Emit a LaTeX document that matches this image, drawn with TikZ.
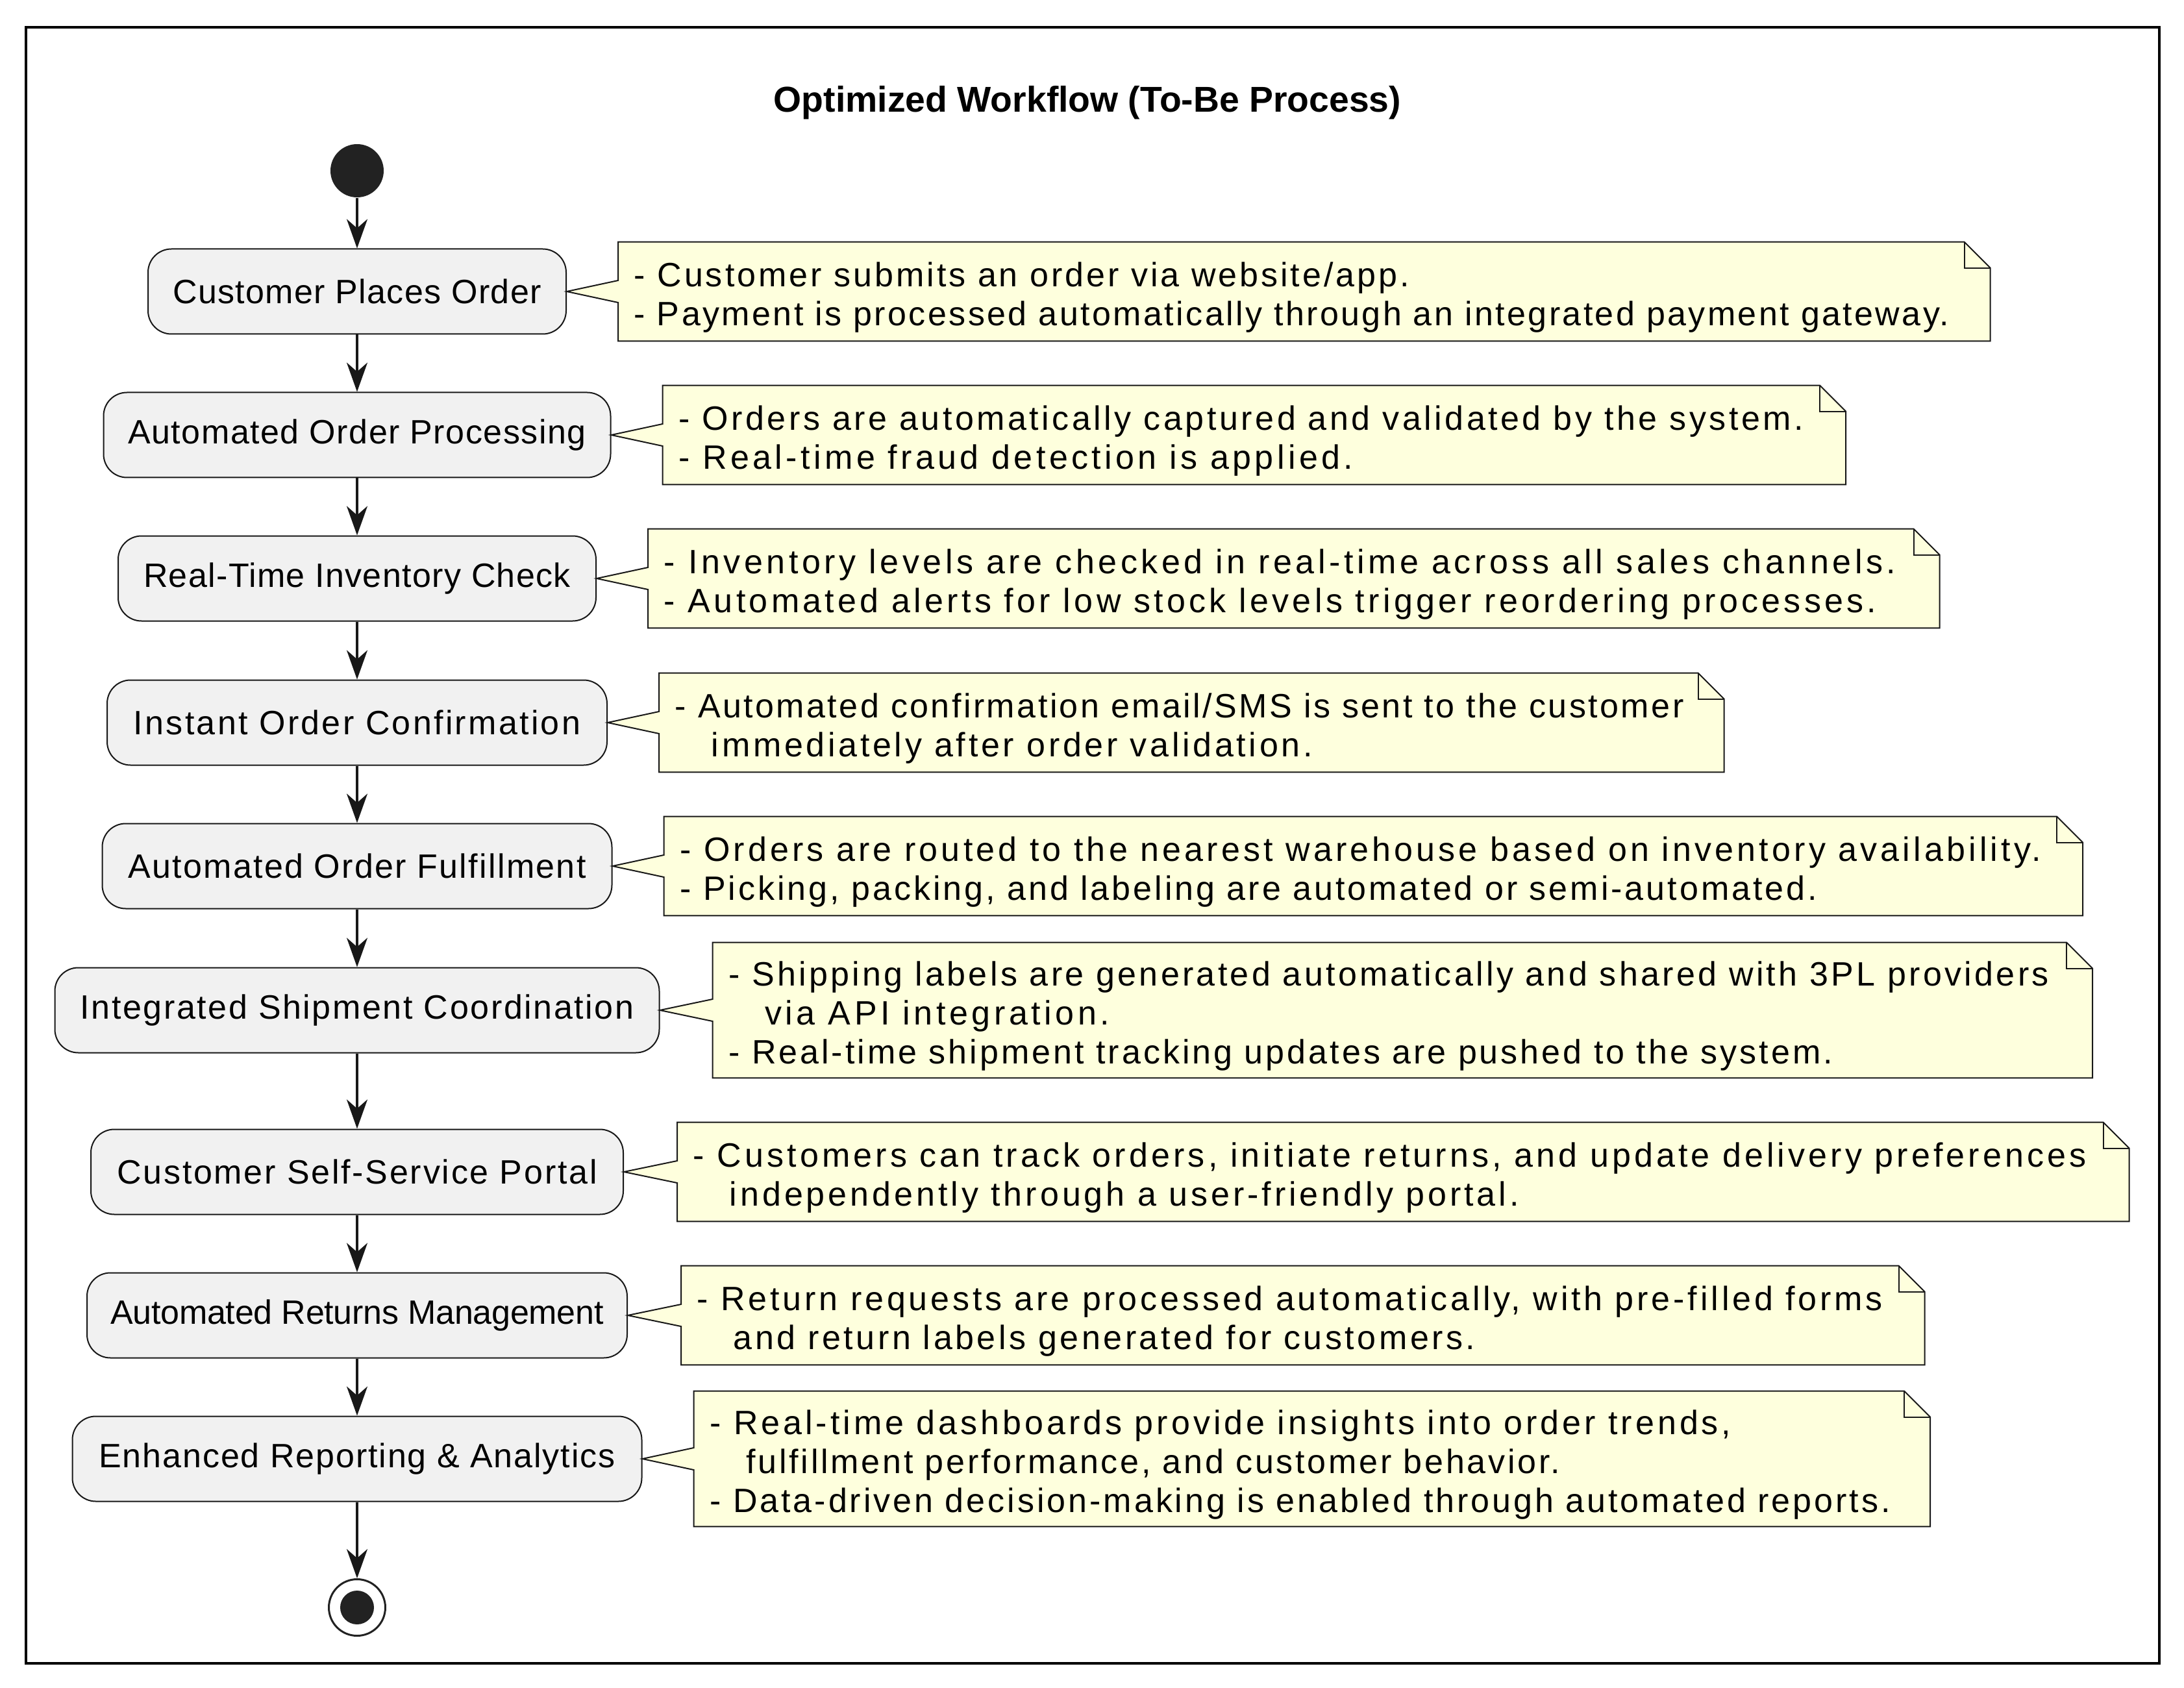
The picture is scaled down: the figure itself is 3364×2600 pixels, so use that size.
\documentclass[tikz,border=0pt]{standalone}
\usepackage{fontspec}
\setmainfont{Liberation Sans}
\newfontfamily\notefont{Liberation Sans}[Ligatures=NoCommon]
\newfontfamily\titlefont{Liberation Sans}[Ligatures=NoCommon]
\usetikzlibrary{arrows.meta}
\definecolor{linec}{HTML}{181818}
\definecolor{boxfill}{HTML}{F1F1F1}
\definecolor{notefill}{HTML}{FEFFDD}
\definecolor{dotc}{HTML}{222222}
\tikzset{
  actbox/.style={draw=linec, fill=boxfill, line width=0.5pt, rounded corners=9pt,
    minimum height=32.75pt, inner sep=0pt, text=black,
    font=\notefont\fontsize{13pt}{15pt}\selectfont},
  flow/.style={draw=linec, line width=0.85pt, -{Stealth[length=11.25pt,width=8pt,inset=3.5pt]}},
  notearea/.style={inner sep=0pt, minimum height=37.75pt, anchor=west},
  tallnote/.style={minimum height=51.75pt},
  noteshape/.style={draw=linec, fill=notefill, line width=0.5pt, line join=miter},
  notetext/.style={inner sep=0pt, align=left, anchor=west, text=black,
    font=\notefont\fontsize{13pt}{15pt}\selectfont},
  startdot/.style={circle, fill=dotc, inner sep=0pt},
}
\newcommand{\drawnote}[2]{%
  \path[noteshape] (#1.north west) -- ([xshift=-10pt]#1.north east) -- ([yshift=-10pt]#1.north east)
    -- (#1.south east) -- (#1.south west) -- ([yshift=-4.25pt]#1.west) -- (#2.east)
    -- ([yshift=4.25pt]#1.west) -- cycle;
  \draw[linec, line width=0.5pt] ([xshift=-10pt]#1.north east) -- ([xshift=-10pt,yshift=-10pt]#1.north east)
    -- ([yshift=-10pt]#1.north east);
}
\newcommand{\cont}{\hspace*{14pt}}
\newcommand{\lsp}[2]{{\addfontfeatures{LetterSpace=#1}#2}}
\newcommand{\tstr}{\rule{0pt}{15.25pt}}
\newcommand{\bstr}{\rule[-4pt]{0pt}{4pt}}
\begin{document}
\begin{tikzpicture}[x=0.25pt, y=-0.25pt]
\useasboundingbox (0,0) rectangle (3364,2600);
\node[draw=black, line width=0.85pt, minimum width=821.5pt, minimum height=630pt, inner sep=0pt] (frame) at (1683,1302) {};
\node[font=\titlefont\bfseries\fontsize{13.83pt}{16pt}\selectfont] (title) at (1675,158) {Optimized Workflow (To-Be Process)};

\node[startdot, minimum size=20.5pt] (start) at (550,263) {};

\node[actbox, minimum width=161pt]    (b1) at (550,449)  {\lsp{2.6}{Customer Places Order}};
\node[actbox, minimum width=195.25pt] (b2) at (550,670)  {\lsp{2.9}{Automated Order Processing}};
\node[actbox, minimum width=184pt]    (b3) at (550,891)  {\lsp{2.6}{Real-Time Inventory Check}};
\node[actbox, minimum width=192.5pt]  (b4) at (550,1113) {\lsp{6.3}{Instant Order Confirmation}};
\node[actbox, minimum width=196.25pt] (b5) at (550,1334) {\lsp{4.4}{Automated Order Fulfillment}};
\node[actbox, minimum width=232.75pt] (b6) at (550,1556) {\lsp{5.0}{Integrated Shipment Coordination}};
\node[actbox, minimum width=205pt]    (b7) at (550,1805) {\lsp{5.3}{Customer Self-Service Portal}};
\node[actbox, minimum width=208pt]    (b8) at (550,2026) {\lsp{-0.5}{Automated Returns Management}};
\node[actbox, minimum width=219.25pt] (b9) at (550,2247) {\lsp{3.65}{Enhanced Reporting \& Analytics}};

\node[circle, draw=dotc, line width=0.75pt, fill=white, minimum size=21.75pt, inner sep=0pt] (stop) at (550,2476) {};
\node[startdot, minimum size=13pt] (stopdot) at (stop.center) {};

\draw[flow] (start) -- (b1);
\draw[flow] (b1) -- (b2);
\draw[flow] (b2) -- (b3);
\draw[flow] (b3) -- (b4);
\draw[flow] (b4) -- (b5);
\draw[flow] (b5) -- (b6);
\draw[flow] (b6) -- (b7);
\draw[flow] (b7) -- (b8);
\draw[flow] (b8) -- (b9);
\draw[flow] (b9) -- (stop);

% notes
\node[notearea, minimum width=528pt] (n1) at ([xshift=19.75pt]b1.east) {};
\drawnote{n1}{b1}
\node[notetext] (t1) at ([xshift=6pt]n1.west) {\tstr\lsp{7.7}{- Customer submits an order via website/app.}\\\lsp{6.6}{- Payment is processed automatically through an integrated payment gateway.}\bstr};

\node[notearea, minimum width=455.25pt] (n2) at ([xshift=19.75pt]b2.east) {};
\drawnote{n2}{b2}
\node[notetext] (t2) at ([xshift=6pt]n2.west) {\tstr\lsp{8.7}{- Orders are automatically captured and validated by the system.}\\\lsp{10.35}{- Real-time fraud detection is applied.}\bstr};

\node[notearea, minimum width=497pt] (n3) at ([xshift=19.75pt]b3.east) {};
\drawnote{n3}{b3}
\node[notetext] (t3) at ([xshift=6pt]n3.west) {\tstr\lsp{10.7}{- Inventory levels are checked in real-time across all sales channels.}\\\lsp{10.2}{- Automated alerts for low stock levels trigger reordering processes.}\bstr};

\node[notearea, minimum width=409.75pt] (n4) at ([xshift=19.75pt]b4.east) {};
\drawnote{n4}{b4}
\node[notetext] (t4) at ([xshift=6pt]n4.west) {\tstr\lsp{6.65}{- Automated confirmation email/SMS is sent to the customer}\\\cont\lsp{9.05}{immediately after order validation.}\bstr};

\node[notearea, minimum width=546pt] (n5) at ([xshift=19.75pt]b5.east) {};
\drawnote{n5}{b5}
\node[notetext] (t5) at ([xshift=6pt]n5.west) {\tstr\lsp{9.9}{- Orders are routed to the nearest warehouse based on inventory availability.}\\\lsp{7.65}{- Picking, packing, and labeling are automated or semi-automated.}\bstr};

\node[notearea, tallnote, minimum width=531pt] (n6) at ([xshift=20.25pt]b6.east) {};
\drawnote{n6}{b6}
\node[notetext] (t6) at ([xshift=6pt]n6.west) {\tstr\lsp{8.3}{- Shipping labels are generated automatically and shared with 3PL providers}\\\cont\lsp{10.7}{via API integration.}\\\lsp{7.7}{- Real-time shipment tracking updates are pushed to the system.}\bstr};

\node[notearea, minimum width=558.75pt] (n7) at ([xshift=20.5pt]b7.east) {};
\drawnote{n7}{b7}
\node[notetext] (t7) at ([xshift=6pt]n7.west) {\tstr\lsp{9.85}{- Customers can track orders, initiate returns, and update delivery preferences}\\\cont\lsp{9.55}{independently through a user-friendly portal.}\bstr};

\node[notearea, minimum width=478.5pt] (n8) at ([xshift=20.5pt]b8.east) {};
\drawnote{n8}{b8}
\node[notetext] (t8) at ([xshift=6pt]n8.west) {\tstr\lsp{9.35}{- Return requests are processed automatically, with pre-filled forms}\\\cont\lsp{8.7}{and return labels generated for customers.}\bstr};

\node[notearea, tallnote, minimum width=475.75pt] (n9) at ([xshift=19.75pt]b9.east) {};
\drawnote{n9}{b9}
\node[notetext] (t9) at ([xshift=6pt]n9.west) {\tstr\lsp{9.6}{- Real-time dashboards provide insights into order trends,}\\\cont\lsp{7.25}{fulfillment performance, and customer behavior.}\\\lsp{7.65}{- Data-driven decision-making is enabled through automated reports.}\bstr};
\end{tikzpicture}
\end{document}
